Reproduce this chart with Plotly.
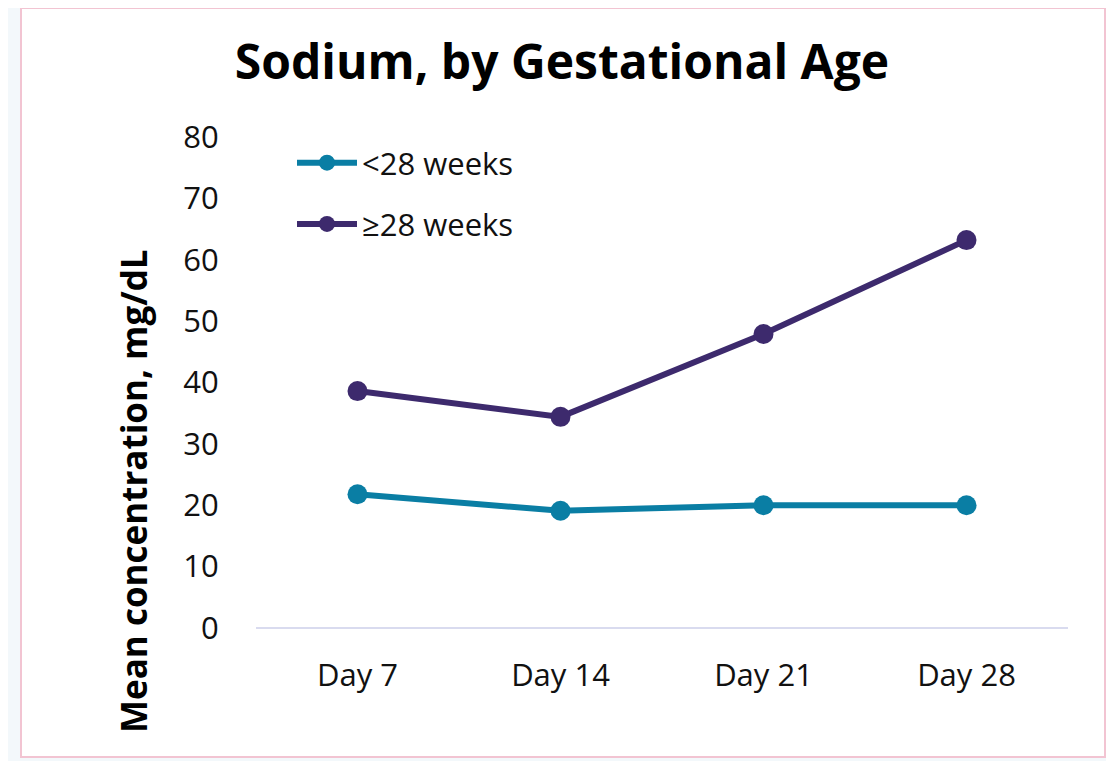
import plotly.graph_objects as go

days = ["Day 7", "Day 14", "Day 21", "Day 28"]
under_28 = [21.8, 19.1, 20.0, 20.0]
over_28 = [38.6, 34.4, 47.9, 63.2]

# the page body adds an 8px margin, so the figure is sized to fit the window
W, H = 1106, 753
L, R, T, B = 248, 46, 129, 133
pw, ph = W - L - R, H - T - B


def px(x):
    return (x - L) / pw


def py(y):
    return (H - B - y) / ph


fig = go.Figure()
fig.add_trace(go.Scatter(x=days, y=under_28, name="<28 weeks", mode="lines+markers",
                         line=dict(color="#0a7ea4", width=6), marker=dict(size=20),
                         legendgroup="a"))
fig.add_trace(go.Scatter(x=days, y=over_28, name="≥28 weeks", mode="lines+markers",
                         line=dict(color="#3d2a6d", width=6), marker=dict(size=20),
                         legendgroup="b"))

# card behind the chart
fig.add_shape(type="rect", xref="paper", yref="paper", layer="below",
              x0=px(13), x1=px(1097), y0=py(749), y1=py(0),
              fillcolor="white", line=dict(color="#f2c4d2", width=2))

fig.add_annotation(text="<b>Mean concentration, mg/dL</b>", textangle=-90, showarrow=False,
                   xref="paper", yref="paper", x=px(125), y=py(483),
                   font=dict(size=35, color="black", family="Open Sans"),
                   xanchor="center", yanchor="middle")

fig.update_layout(
    width=W, height=H,
    margin=dict(l=L, r=R, t=T, b=B),
    paper_bgcolor="#f3f8fb",
    plot_bgcolor="rgba(0,0,0,0)",
    font=dict(family="Open Sans", size=31, color="#111111"),
    title=dict(text="<b>Sodium, by Gestational Age</b>", x=554 / W, xanchor="center",
               y=1 - 54 / H, yanchor="middle", font=dict(size=48, color="black")),
    showlegend=True,
    legend=dict(x=px(284), y=py(128), xanchor="left", yanchor="top", itemwidth=60,
                bgcolor="rgba(0,0,0,0)", tracegroupgap=18, font=dict(size=31)),
    xaxis=dict(range=[-0.5, 3.5], showgrid=False, showline=False, zeroline=False,
               ticks="outside", ticklen=20, tickcolor="rgba(0,0,0,0)"),
    yaxis=dict(range=[0, 80], dtick=10, showgrid=False, zeroline=True,
               zerolinecolor="#d9dbef", zerolinewidth=2, showline=False,
               ticks="outside", ticklen=30, tickcolor="rgba(0,0,0,0)"),
)

fig.write_html("out.html")
